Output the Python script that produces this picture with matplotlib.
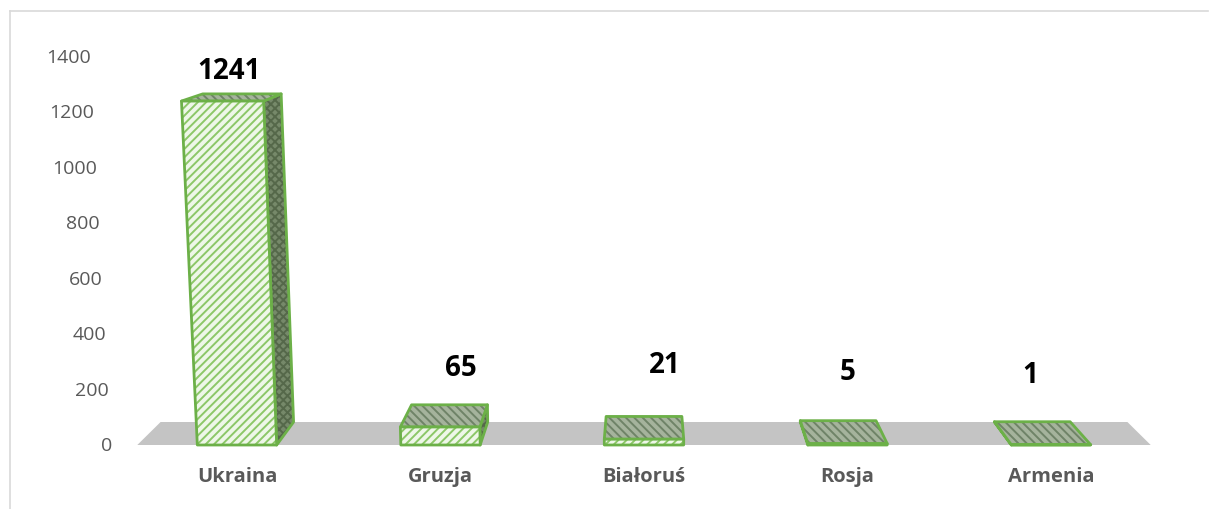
import matplotlib
matplotlib.use("Agg")
import matplotlib.pyplot as plt
from matplotlib.patches import Polygon
from matplotlib.lines import Line2D

# data
countries = ['Ukraina', 'Gruzja', 'Białoruś', 'Rosja', 'Armenia']
counts = [1241, 65, 21, 5, 1]
y_ticks = [0, 200, 400, 600, 800, 1000, 1200, 1400]

# layout (fake 3D perspective, Excel style)
XV = 2.0          # x of vanishing point
YV = 1804.0       # y of vanishing point for depth
LEAN = 0.04 / 1400  # verticals spread out going up
DEPTH = 0.046     # shrink of the back plane
HALF = 0.195      # half bar width
label_dx = [-0.04, 0.10, 0.10, 0.0, -0.10]
label_dy = [109, 216, 271, 262, 252]

GREEN = '#6cb048'
plt.rcParams['font.family'] = ['Open Sans', 'DejaVu Sans']
plt.rcParams['hatch.linewidth'] = 1.4


def front(x, v):
    return (XV + (x - XV) * (1 + LEAN * v), v)


def back(p):
    return (XV + (p[0] - XV) * (1 - DEPTH), YV + (p[1] - YV) * (1 - DEPTH))


def face(ax, pts, fill, hatch, hcol, z):
    ax.add_patch(Polygon(pts, closed=True, facecolor=fill, edgecolor=hcol,
                         hatch=hatch, linewidth=0, zorder=z))
    ax.add_patch(Polygon(pts, closed=True, facecolor='none', edgecolor=GREEN,
                         linewidth=2.0, joinstyle='round', zorder=z + 0.1))


fig = plt.figure(figsize=(12.09, 5.10), dpi=100)
ax = fig.add_axes([0, 0, 1, 1])
ax.set_xlim(-237 / 203.5, (1209 - 237) / 203.5)
ax.set_ylim(-64 * 1400 / 388, 446 * 1400 / 388)
ax.axis('off')

# chart border (top and left visible)
fig.add_artist(Line2D([10 / 1209, 10 / 1209], [0, 1 - 12 / 510],
                      color='#d9d9d9', lw=1.2))
fig.add_artist(Line2D([10 / 1209, 1208 / 1209], [1 - 12 / 510, 1 - 12 / 510],
                      color='#d9d9d9', lw=1.2))

# floor
n = len(countries)
f0 = front(-0.49, 0)
f1 = front(n - 1 + 0.49, 0)
ax.add_patch(Polygon([f0, f1, back(f1), back(f0)], closed=True,
                     facecolor='#c4c4c4', edgecolor='none', zorder=1))

# bars
for i, v in enumerate(counts):
    xl, xr = i - HALF, i + HALF
    bl, br = front(xl, 0), front(xr, 0)
    tl, tr = front(xl, v), front(xr, v)
    if xr < XV:
        face(ax, [br, back(br), back(tr), tr], '#76896a', 'xxxx', '#55684a', 2)
    elif xl > XV:
        face(ax, [bl, back(bl), back(tl), tl], '#76896a', 'xxxx', '#55684a', 2)
    face(ax, [tl, tr, back(tr), back(tl)], '#a5b39c', '\\\\\\\\', '#6f8367', 3)
    face(ax, [bl, br, tr, tl], '#eef7e8', '////', '#8cc768', 4)

    ax.text(i + label_dx[i], v + label_dy[i], str(v), ha='center', va='center',
            fontsize=20, fontweight='bold', color='black', zorder=6)
    ax.text(i, -112, countries[i], ha='center', va='center',
            fontsize=14.5, fontweight='bold', color='#595959', zorder=6)

# value axis labels, leaning with the perspective
for t in y_ticks:
    x, y = front(-0.615, t)
    ax.text(x, y, str(t), ha='right', va='center', fontsize=14,
            color='#595959', zorder=6)

fig.savefig('out.png', dpi=100)
